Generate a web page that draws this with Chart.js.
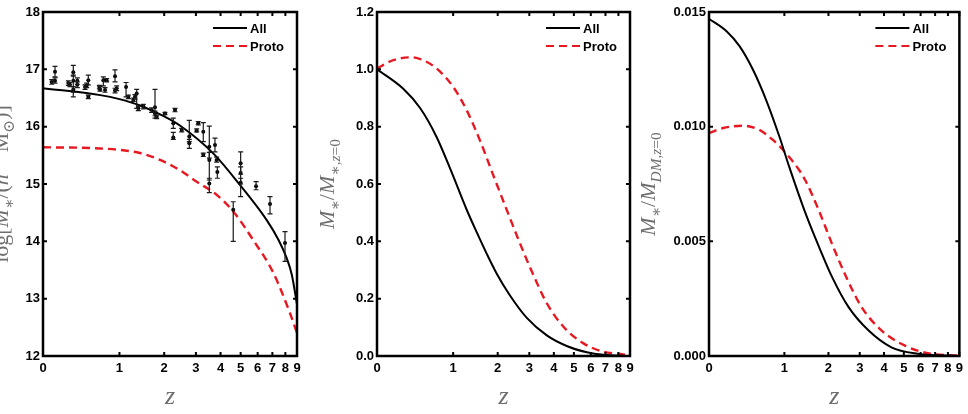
<!DOCTYPE html>
<html><head><meta charset="utf-8">
<script src="https://cdn.jsdelivr.net/npm/chart.js@4.4.1/dist/chart.umd.min.js"></script>
<style>
html,body{margin:0;padding:0;background:#fff;width:968px;height:414px;overflow:hidden;}
canvas{position:absolute;top:0;}
</style></head><body>
<canvas id="c1" width="320" height="414" style="left:0px"></canvas>
<canvas id="c2" width="320" height="414" style="left:320px"></canvas>
<canvas id="c3" width="328" height="414" style="left:640px"></canvas>
<script>
// ---------- data ----------
const xTickValues = [0,1,2,3,4,5,6,7,8,9];
const xTickLabels = ['0','1','2','3','4','5','6','7','8','9'];
const seriesNames = ['All','Proto'];

// Panel 1: log stellar mass
const p1AllZ   = [0, 0.68, 1.0, 1.41, 2.0, 2.46, 3.69, 4.97, 6.6, 7.47, 8.1, 8.55, 9];
const p1AllY   = [16.67, 16.55, 16.48, 16.37, 16.18, 16.02, 15.53, 14.98, 14.37, 14.02, 13.71, 13.41, 12.90];
const p1ProtoZ = [0, 0.68, 1.41, 1.89, 2.46, 3.03, 3.83, 4.61, 5.73, 7.07, 8.38, 9];
const p1ProtoY = [15.64, 15.62, 15.54, 15.42, 15.24, 15.04, 14.81, 14.52, 14.02, 13.45, 12.75, 12.40];
const obsZ    = [0.082,0.115,0.115,0.258,0.277,0.316,0.316,0.316,0.365,0.365,0.464,0.486,0.508,0.508,0.667,0.677,0.728,0.755,0.781,0.921,0.921,0.950,1.123,1.168,1.268,1.302,1.338,1.373,1.483,1.678,1.760,1.760,1.803,2.021,2.309,2.258,2.258,2.516,2.767,2.767,3.027,3.085,3.276,3.276,3.516,3.516,3.516,3.754,3.827,3.857,4.61,5.0,5.0,5.0,5.90,6.83,7.97];
const obsVal  = [16.78,16.96,16.80,16.76,16.73,16.95,16.80,16.65,16.80,16.73,16.69,16.72,16.81,16.52,16.69,16.65,16.81,16.64,16.81,16.88,16.63,16.67,16.69,16.52,16.47,16.52,16.58,16.32,16.35,16.29,16.34,16.23,16.17,16.23,16.29,16.06,15.81,15.94,15.83,15.71,15.93,16.06,15.91,15.51,15.65,15.42,15.01,15.68,15.42,15.21,14.55,15.36,15.19,15.02,14.96,14.65,13.97];
const obsLow  = [16.74,16.87,16.76,16.72,16.70,16.88,16.60,16.52,16.74,16.68,16.65,16.68,16.73,16.49,16.66,16.62,16.71,16.60,16.78,16.78,16.59,16.63,16.52,16.49,16.44,16.48,16.32,16.28,16.31,16.25,16.15,16.19,16.14,16.21,16.26,15.97,15.78,15.91,15.74,15.62,15.91,16.03,15.74,15.48,15.45,15.07,14.85,15.56,15.38,15.10,14.00,15.17,15.00,14.78,14.90,14.48,13.65];
const obsHigh = [16.82,17.05,16.85,16.80,16.77,17.07,16.90,16.70,16.85,16.78,16.73,16.76,16.90,16.55,16.72,16.70,16.87,16.68,16.84,16.99,16.67,16.71,16.77,16.55,16.50,16.56,16.65,16.36,16.39,16.33,16.65,16.27,16.20,16.25,16.32,16.15,15.90,15.97,16.11,15.78,15.96,16.09,16.07,15.54,16.01,15.55,15.10,15.80,15.47,15.30,14.69,15.56,15.30,15.10,15.04,14.78,14.17];

// Panel 2: M*/M*(z=0)
const p2AllZ   = [0, 0.27, 0.48, 0.72, 0.97, 1.26, 1.48, 1.71, 1.97, 2.35, 2.91, 3.69, 4.62, 5.75, 6.85, 9];
const p2AllY   = [1.0, 0.932, 0.865, 0.764, 0.642, 0.511, 0.431, 0.358, 0.288, 0.212, 0.133, 0.072, 0.035, 0.013, 0.004, 0];
const p2ProtoZ = [0, 0.16, 0.37, 0.52, 0.72, 1.0, 1.26, 1.55, 1.88, 2.26, 2.68, 3.15, 3.69, 4.46, 5.55, 6.85, 8.14, 9];
const p2ProtoY = [1.003, 1.032, 1.042, 1.032, 1.003, 0.939, 0.858, 0.753, 0.631, 0.509, 0.391, 0.283, 0.184, 0.102, 0.044, 0.015, 0.007, 0.003];

// Panel 3: M*/M_DM(z=0)
const p3AllZ   = [0, 0.175, 0.326, 0.497, 0.69, 0.91, 1.09, 1.43, 1.75, 2.10, 2.61, 3.33, 4.35, 5.82, 9];
const p3AllY   = [0.0147, 0.01416, 0.0135, 0.01249, 0.01117, 0.00957, 0.00826, 0.00622, 0.00476, 0.00345, 0.00213, 0.00112, 0.00038, 0.0001, 0];
const p3ProtoZ = [0, 0.139, 0.367, 0.59, 0.80, 1.03, 1.29, 1.43, 1.75, 2.10, 2.50, 3.07, 3.88, 5.04, 6.48, 9];
const p3ProtoY = [0.00972, 0.00994, 0.01004, 0.00986, 0.00942, 0.00884, 0.00811, 0.00764, 0.00633, 0.00489, 0.00354, 0.00213, 0.00112, 0.00046, 0.00012, 0.00002];

// ---------- drawing helpers ----------
const RED = 'rgb(232,24,34)';
const LABEL_COLOR = '#6e6e6e';
const SERIF = '"Liberation Serif", "DejaVu Serif", serif';
const SANS = '"Liberation Sans", Arial, sans-serif';

function pts(zs, ys) { return zs.map((z, i) => ({x: 1 + z, y: ys[i]})); }

function pieceFont(style, size) {
  const s = style.length > 1 ? size * 0.7 : size;
  const it = style.endsWith('i') ? 'italic ' : '';
  return it + s + 'px ' + SERIF;
}
function pieceDy(style, size) {
  if (style[0] === 's' && style.length > 1) return size * 0.28;
  if (style[0] === 'p') return -size * 0.4;
  return 0;
}
function drawRich(ctx, pieces, size, cx, cy, rotate) {
  ctx.save();
  ctx.fillStyle = LABEL_COLOR;
  ctx.textBaseline = 'alphabetic';
  ctx.textAlign = 'left';
  let total = 0;
  const w = pieces.map(([t, st]) => { ctx.font = pieceFont(st, size); const m = ctx.measureText(t).width; total += m; return m; });
  ctx.translate(cx, cy);
  if (rotate) ctx.rotate(-Math.PI / 2);
  let x = -total / 2;
  pieces.forEach(([t, st], i) => {
    ctx.font = pieceFont(st, size);
    ctx.fillText(t, x, pieceDy(st, size));
    x += w[i];
  });
  ctx.restore();
}

const framePlugin = {
  id: 'frame',
  afterDatasetsDraw(chart, args, opts) {
    const {ctx, chartArea: a, scales: {x, y}} = chart;
    ctx.save();
    // error bars
    chart.data.datasets.forEach(ds => {
      if (!ds.errLow) return;
      ctx.strokeStyle = '#1a1a1a';
      ctx.lineWidth = 1.2;
      ds.data.forEach((p, j) => {
        const px = x.getPixelForValue(p.x);
        const yl = y.getPixelForValue(ds.errLow[j]);
        const yh = y.getPixelForValue(ds.errHigh[j]);
        ctx.beginPath();
        ctx.moveTo(px, yl); ctx.lineTo(px, yh);
        ctx.moveTo(px - 2.5, yl); ctx.lineTo(px + 2.5, yl);
        ctx.moveTo(px - 2.5, yh); ctx.lineTo(px + 2.5, yh);
        ctx.stroke();
      });
    });
    // ticks (inward, all four sides)
    ctx.strokeStyle = '#000';
    ctx.lineWidth = 2;
    const TL = 4;
    x.ticks.forEach(t => {
      const px = x.getPixelForValue(t.value);
      ctx.beginPath();
      ctx.moveTo(px, a.bottom); ctx.lineTo(px, a.bottom - TL);
      ctx.moveTo(px, a.top); ctx.lineTo(px, a.top + TL);
      ctx.stroke();
    });
    y.ticks.forEach(t => {
      const py = y.getPixelForValue(t.value);
      ctx.beginPath();
      ctx.moveTo(a.left, py); ctx.lineTo(a.left + TL, py);
      ctx.moveTo(a.right, py); ctx.lineTo(a.right - TL, py);
      ctx.stroke();
    });
    // frame
    ctx.lineWidth = 2.5;
    ctx.strokeRect(a.left, a.top, a.width, a.height);
    // legend
    const lines = chart.data.datasets.filter(d => d.inLegend);
    lines.forEach((d, i) => {
      const ly = a.top + 16 + i * 18;
      ctx.beginPath();
      ctx.strokeStyle = d.borderColor;
      ctx.lineWidth = 2.2;
      ctx.setLineDash(d.borderDash || []);
      ctx.moveTo(a.right - 84, ly); ctx.lineTo(a.right - 50, ly);
      ctx.stroke();
      ctx.setLineDash([]);
      ctx.fillStyle = '#000';
      ctx.font = 'bold 13px ' + SANS;
      ctx.textBaseline = 'middle';
      ctx.textAlign = 'left';
      ctx.fillText(d.label, a.right - 47, ly + 1);
    });
    ctx.restore();
    // axis labels
    drawRich(ctx, [['z', 'i']], 26, (a.left + a.right) / 2, 404, false);
    drawRich(ctx, opts.yLabel, 22, opts.yLabelX, (a.top + a.bottom) / 2, true);
  }
};

function makeChart(id, datasets, yMin, yMax, yStep, yDec, yWidth, padRight, yLabel, yLabelX) {
  return new Chart(document.getElementById(id), {
    type: 'line',
    data: {datasets},
    options: {
      responsive: false,
      animation: false,
      events: [],
      layout: {padding: {top: 12, right: padRight, bottom: 0, left: 0}},
      plugins: {legend: {display: false}, tooltip: {enabled: false}, frame: {yLabel, yLabelX}},
      scales: {
        x: {
          type: 'logarithmic', min: 1, max: 10,
          afterBuildTicks: s => { s.ticks = xTickValues.map(v => ({value: 1 + v})); },
          afterFit: s => { s.height = 58; },
          grid: {display: false, drawTicks: false, tickLength: 0},
          border: {display: false},
          ticks: {autoSkip: false, maxRotation: 0, padding: 5, color: '#000',
                  font: {family: SANS, size: 13, weight: 'bold'},
                  callback: (v, i) => xTickLabels[i]}
        },
        y: {
          min: yMin, max: yMax,
          afterBuildTicks: s => { const t = []; for (let v = yMin; v <= yMax + yStep / 2; v += yStep) t.push({value: +v.toFixed(6)}); s.ticks = t; },
          afterFit: s => { s.width = yWidth; },
          grid: {display: false, drawTicks: false, tickLength: 0},
          border: {display: false},
          ticks: {padding: 3, color: '#000', font: {family: SANS, size: 13, weight: 'bold'},
                  callback: v => v.toFixed(yDec)}
        }
      }
    },
    plugins: [framePlugin]
  });
}

function lineDs(label, zs, ys, proto) {
  return {label, data: pts(zs, ys), inLegend: true,
          borderColor: proto ? RED : '#000', borderWidth: proto ? 2.4 : 2,
          borderDash: proto ? [8, 5] : [], pointRadius: 0, fill: false,
          cubicInterpolationMode: 'monotone'};
}

makeChart('c1', [
  {label: 'obs', data: pts(obsZ, obsVal), errLow: obsLow, errHigh: obsHigh, showLine: false,
   pointRadius: 2, pointBackgroundColor: '#000', pointBorderWidth: 0, borderColor: '#000'},
  lineDs(seriesNames[0], p1AllZ, p1AllY, false),
  lineDs(seriesNames[1], p1ProtoZ, p1ProtoY, true)
], 12, 18, 1, 0, 43, 23,
  [['log', 'r'], ['[', 'r'], ['M', 'i'], ['∗', 'sr'], ['/(', 'r'], ['h', 'i'], ['−1', 'pr'], [' M', 'r'], ['⊙', 'sr'], [')]', 'r']], 8);

makeChart('c2', [
  lineDs(seriesNames[0], p2AllZ, p2AllY, false),
  lineDs(seriesNames[1], p2ProtoZ, p2ProtoY, true)
], 0, 1.2, 0.2, 1, 57, 10,
  [['M', 'i'], ['∗', 'sr'], ['/', 'r'], ['M', 'i'], ['∗,', 'sr'], ['z', 'si'], ['=0', 'sr']], 14);

makeChart('c3', [
  lineDs(seriesNames[0], p3AllZ, p3AllY, false),
  lineDs(seriesNames[1], p3ProtoZ, p3ProtoY, true)
], 0, 0.015, 0.005, 3, 69, 6,
  [['M', 'i'], ['∗', 'sr'], ['/', 'r'], ['M', 'i'], ['DM', 'si'], [',', 'sr'], ['z', 'si'], ['=0', 'sr']], 15);
</script>
</body></html>
